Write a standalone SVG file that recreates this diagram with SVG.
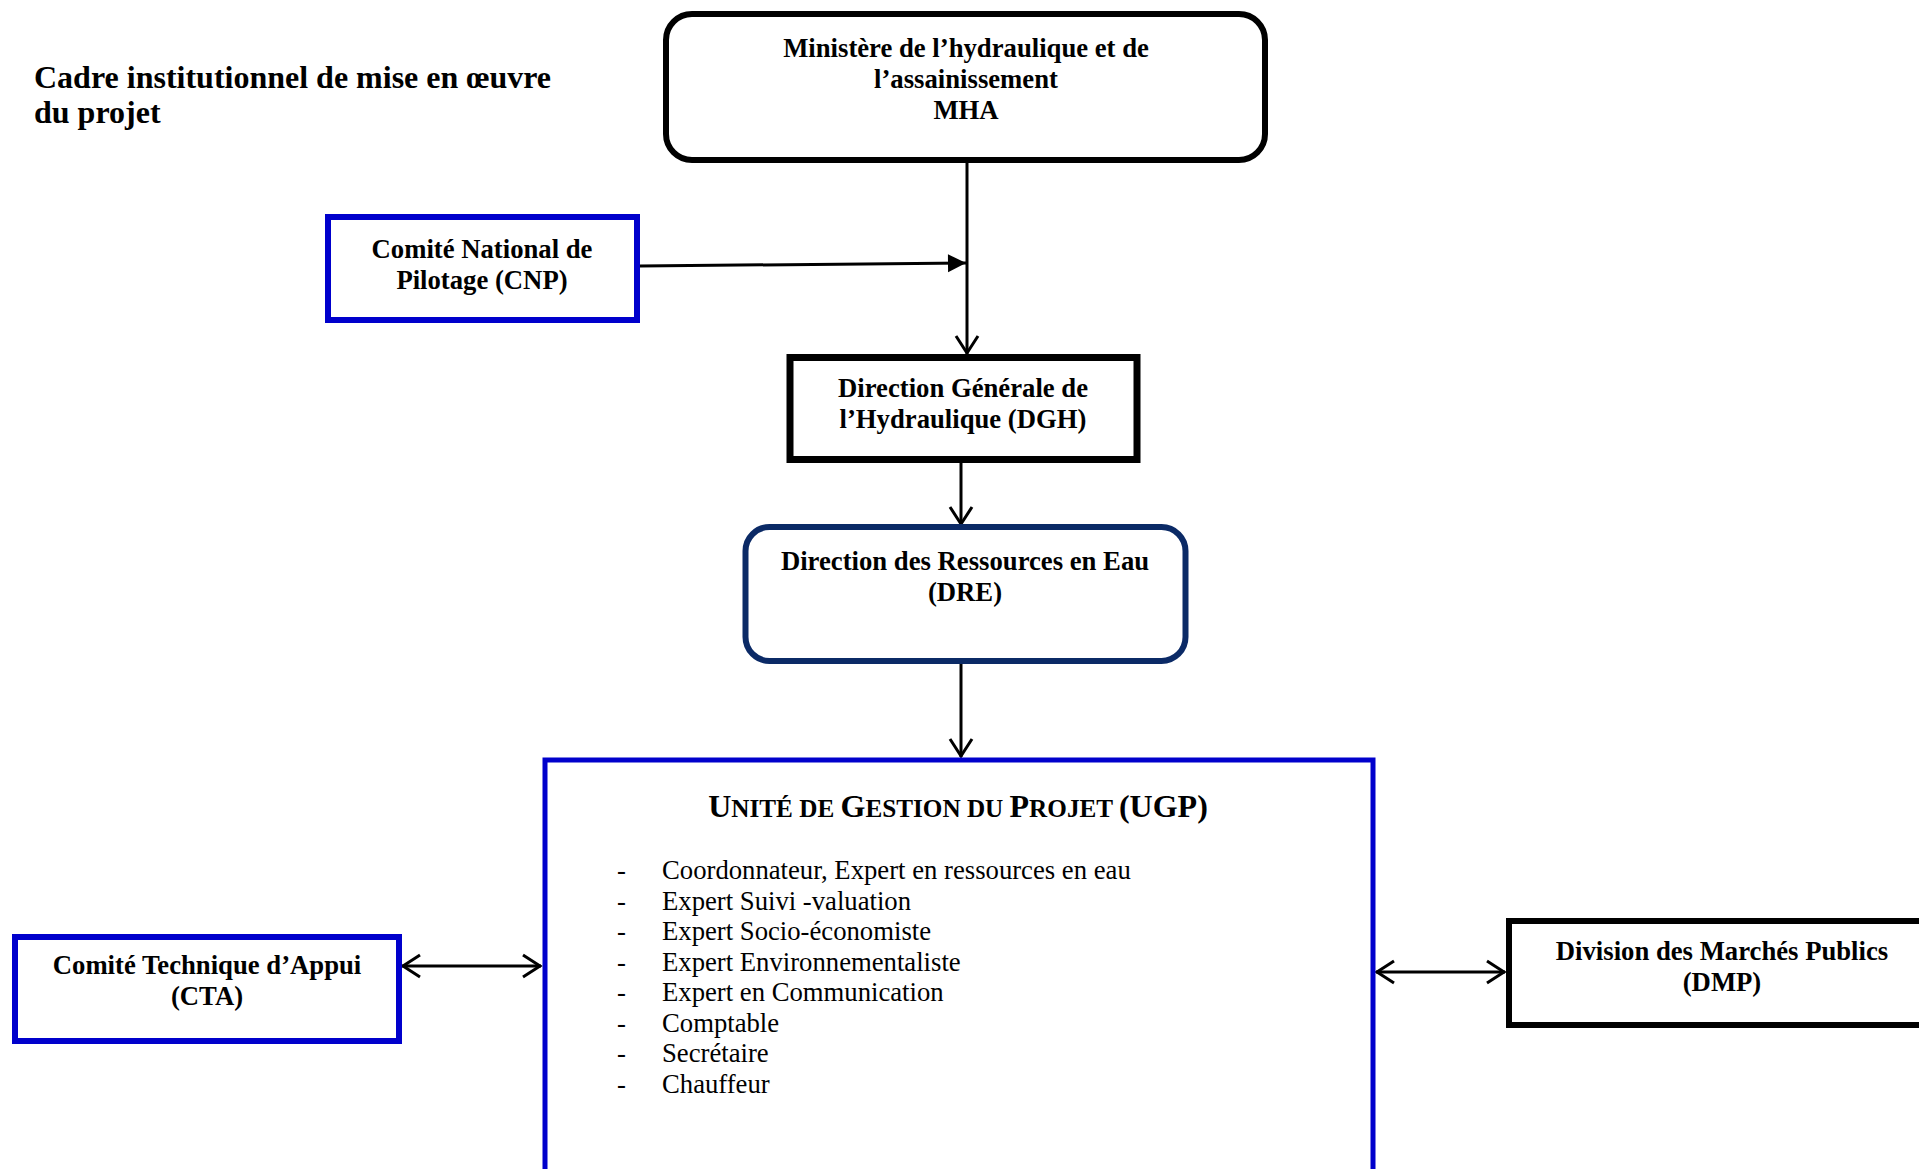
<svg xmlns="http://www.w3.org/2000/svg" width="1919" height="1169" viewBox="0 0 1919 1169">
<style>
  .bg { fill: #ffffff; }
  .box { fill: #ffffff; }
  .blk { stroke: #000000; }
  .blu { stroke: #0000cc; }
  .navy { stroke: #0b2a66; }
  .lbl { font-family: "Liberation Serif", "Times New Roman", serif; font-weight: bold; font-size: 26.7px; fill: #000; text-anchor: middle; }
  .title { font-family: "Liberation Serif", "Times New Roman", serif; font-weight: bold; font-size: 32px; fill: #000; }
  .ugp { font-family: "Liberation Serif", "Times New Roman", serif; font-weight: bold; font-size: 32px; fill: #000; text-anchor: middle; }
  .item { font-family: "Liberation Serif", "Times New Roman", serif; font-size: 26.7px; fill: #000; }
  .conn { stroke: #000; stroke-width: 3; fill: none; }
</style>
<defs>
  <marker id="chev" markerUnits="userSpaceOnUse" viewBox="-24 -14 28 28" markerWidth="28" markerHeight="28" refX="0" refY="0" orient="auto-start-reverse">
    <path d="M -18 -11 L -1 0 L -18 11" fill="none" stroke="#000" stroke-width="3"/>
  </marker>
  <marker id="tri" markerUnits="userSpaceOnUse" viewBox="-20 -11 22 22" markerWidth="22" markerHeight="22" refX="0" refY="0" orient="auto">
    <path d="M -18 -9 L 0 0 L -18 9 Z" fill="#000"/>
  </marker>
</defs>
<rect class="bg" x="0" y="0" width="1919" height="1169"/>

<g id="title">
  <text class="title" x="34" y="88">Cadre institutionnel de mise en œuvre</text>
  <text class="title" x="34" y="123">du projet</text>
</g>

<g id="connectors">
  <line class="conn" x1="967" y1="160" x2="967" y2="354" marker-end="url(#chev)"/>
  <line class="conn" x1="640" y1="266" x2="966" y2="263" marker-end="url(#tri)"/>
  <line class="conn" x1="961" y1="463" x2="961" y2="525" marker-end="url(#chev)"/>
  <line class="conn" x1="961" y1="664" x2="961" y2="757" marker-end="url(#chev)"/>
  <line class="conn" x1="402" y1="966" x2="541" y2="966" marker-start="url(#chev)" marker-end="url(#chev)"/>
  <line class="conn" x1="1376" y1="972" x2="1505" y2="972" marker-start="url(#chev)" marker-end="url(#chev)"/>
</g>

<g id="mha">
  <rect class="box blk" x="666" y="14" width="599" height="146" rx="26" ry="26" stroke-width="6"/>
  <text class="lbl" x="966" y="57">Ministère de l’hydraulique et de</text>
  <text class="lbl" x="966" y="88">l’assainissement</text>
  <text class="lbl" x="966" y="119">MHA</text>
</g>

<g id="cnp">
  <rect class="box blu" x="328" y="217" width="309" height="103" stroke-width="6"/>
  <text class="lbl" x="482" y="258">Comité National de</text>
  <text class="lbl" x="482" y="289">Pilotage (CNP)</text>
</g>

<g id="dgh">
  <rect class="box blk" x="790" y="357.5" width="347" height="102" stroke-width="7"/>
  <text class="lbl" x="963" y="397">Direction Générale de</text>
  <text class="lbl" x="963" y="428">l’Hydraulique (DGH)</text>
</g>

<g id="dre">
  <rect class="box navy" x="745.5" y="527" width="440" height="134" rx="24" ry="24" stroke-width="6"/>
  <text class="lbl" x="965" y="570">Direction des Ressources en Eau</text>
  <text class="lbl" x="965" y="601">(DRE)</text>
</g>

<g id="ugp">
  <rect class="box blu" x="545" y="760" width="828" height="440" stroke-width="5"/>
  <text class="ugp" x="958" y="817">U<tspan font-size="25.2">NITÉ DE </tspan>G<tspan font-size="25.2">ESTION DU </tspan>P<tspan font-size="25.2">ROJET </tspan>(UGP)</text>
  <g class="item">
    <text x="617" y="879">-</text><text x="662" y="879">Coordonnateur, Expert en ressources en eau</text>
    <text x="617" y="909.5">-</text><text x="662" y="909.5">Expert Suivi -valuation</text>
    <text x="617" y="940">-</text><text x="662" y="940">Expert Socio-économiste</text>
    <text x="617" y="970.5">-</text><text x="662" y="970.5">Expert Environnementaliste</text>
    <text x="617" y="1001">-</text><text x="662" y="1001">Expert en Communication</text>
    <text x="617" y="1031.5">-</text><text x="662" y="1031.5">Comptable</text>
    <text x="617" y="1062">-</text><text x="662" y="1062">Secrétaire</text>
    <text x="617" y="1092.5">-</text><text x="662" y="1092.5">Chauffeur</text>
  </g>
</g>

<g id="cta">
  <rect class="box blu" x="15" y="937" width="384" height="104" stroke-width="6"/>
  <text class="lbl" x="207" y="974">Comité Technique d’Appui</text>
  <text class="lbl" x="207" y="1005">(CTA)</text>
</g>

<g id="dmp">
  <rect class="box blk" x="1509" y="921" width="430" height="104" stroke-width="6"/>
  <text class="lbl" x="1722" y="960">Division des Marchés Publics</text>
  <text class="lbl" x="1722" y="991">(DMP)</text>
</g>
</svg>
